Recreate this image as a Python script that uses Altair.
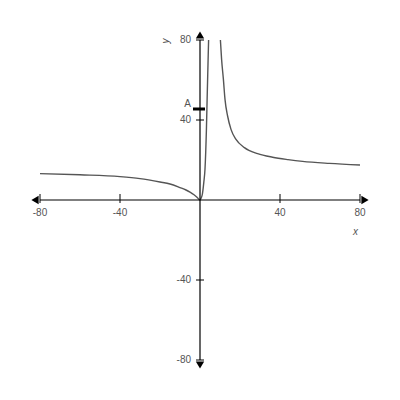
import altair as alt
import pandas as pd

# Curve: branch through the origin (x < asymptote)
left_x = [-80, -60, -40, -30, -20, -15, -10, -7, -5, -3, -1.5, 0, 0.6, 1.2, 1.9, 2.5, 3.2, 3.6, 4.0, 4.3]
left_y = [13.2, 12.6, 11.7, 10.7, 9.0, 8.0, 6.2, 5.0, 3.9, 2.6, 1.4, 0, 1.0, 3.0, 8.8, 15.5, 35, 52, 68, 80]
# Branch right of the asymptote
right_x = [10.2, 10.8, 11.7, 12.5, 13.8, 15.5, 18.0, 22.2, 28.8, 36.3, 44, 51.3, 64.7, 80]
right_y = [80, 70.3, 60.3, 50.3, 42, 35.3, 30.3, 26.2, 23.2, 21.4, 20.2, 19.3, 18.3, 17.5]

tick_vals = [-80, -40, 40, 80]
tick_labels = ["-80", "-40", "40", "80"]
a_value = 45.5
a_label = "A"
x_title = "x"
y_title = "y"

FONT = "Liberation Sans"
LABEL_COLOR = "#555555"

xs = alt.Scale(domain=[-96, 94], nice=False, zero=False)
ys = alt.Scale(domain=[-92, 96], nice=False, zero=False)


def X(field):
    return alt.X(field, type="quantitative", scale=xs, axis=None)


def Y(field):
    return alt.Y(field, type="quantitative", scale=ys, axis=None)


curve_df = pd.DataFrame(
    {"x": left_x + right_x,
     "y": left_y + right_y,
     "branch": ["left"] * len(left_x) + ["right"] * len(right_x)}
)
curve = alt.Chart(curve_df).mark_line(
    color="#555555", strokeWidth=1.4, interpolate="monotone", clip=True
).encode(x=X("x"), y=Y("y"), detail="branch:N")

# axes lines
axes_df = pd.DataFrame({"x0": [-80, 0], "x1": [80, 0], "y0": [0, -80], "y1": [0, 80]})
axes = alt.Chart(axes_df).mark_rule(color="black", strokeWidth=1.2).encode(
    x=X("x0"), x2="x1", y=Y("y0"), y2="y1"
)

# arrows
arrow_df = pd.DataFrame({
    "x": [-82.5, 82.5, 0, 0],
    "y": [0, 0, 82.5, -82.5],
    "shape": ["triangle-left", "triangle-right", "triangle-up", "triangle-down"],
})
arrows = alt.Chart(arrow_df).mark_point(filled=True, size=70, color="black", opacity=1).encode(
    x=X("x"), y=Y("y"), shape=alt.Shape("shape:N", scale=None)
)

# ticks
xt_df = pd.DataFrame({"v": tick_vals, "lab": tick_labels})
xticks = alt.Chart(xt_df).mark_rule(color="black", strokeWidth=1).encode(
    x=X("v"), y=alt.Y("lo:Q", scale=ys, axis=None), y2="hi:Q"
).transform_calculate(lo="-1.5", hi="3")
yticks = alt.Chart(xt_df).mark_rule(color="black", strokeWidth=1).encode(
    y=Y("v"), x=alt.X("lo:Q", scale=xs, axis=None), x2="hi:Q"
).transform_calculate(lo="-2", hi="2")

xlabels = alt.Chart(xt_df).mark_text(
    font=FONT, fontSize=10, color=LABEL_COLOR, align="center", baseline="middle"
).encode(x=X("v"), y=alt.Y("yy:Q", scale=ys, axis=None), text="lab:N").transform_calculate(yy="-6.3")
ylabels = alt.Chart(xt_df).mark_text(
    font=FONT, fontSize=10, color=LABEL_COLOR, align="right", baseline="middle"
).encode(y=Y("v"), x=alt.X("xx:Q", scale=xs, axis=None), text="lab:N").transform_calculate(xx="-4.5")

# A marker
a_df = pd.DataFrame({"v": [a_value], "lab": [a_label]})
a_tick = alt.Chart(a_df).mark_rule(color="black", strokeWidth=3).encode(
    y=Y("v"), x=alt.X("lo:Q", scale=xs, axis=None), x2="hi:Q"
).transform_calculate(lo="-3.5", hi="2.5")
a_text = alt.Chart(a_df).mark_text(
    font=FONT, fontSize=10, color=LABEL_COLOR, align="right", baseline="middle", dy=-5
).encode(y=Y("v"), x=alt.X("xx:Q", scale=xs, axis=None), text="lab:N").transform_calculate(xx="-4.5")

# axis titles
t_df = pd.DataFrame({"x": [77.7, -17.2], "y": [-16.2, 79.5], "lab": [x_title, y_title]})
xtitle = alt.Chart(t_df.iloc[[0]]).mark_text(
    font=FONT, fontSize=10, fontStyle="italic", color=LABEL_COLOR, align="center", baseline="middle"
).encode(x=X("x"), y=Y("y"), text="lab:N")
ytitle = alt.Chart(t_df.iloc[[1]]).mark_text(
    font=FONT, fontSize=10, fontStyle="italic", color=LABEL_COLOR, align="center", baseline="middle", angle=270
).encode(x=X("x"), y=Y("y"), text="lab:N")

chart = alt.layer(
    curve, axes, xticks, yticks, a_tick, arrows, xlabels, ylabels, a_text, xtitle, ytitle
).properties(
    width=380, height=376, padding=0, autosize=alt.AutoSizeParams(type="none")
).configure_view(stroke=None)

chart.save("out.html", embed_options={"renderer": "svg", "actions": False})
